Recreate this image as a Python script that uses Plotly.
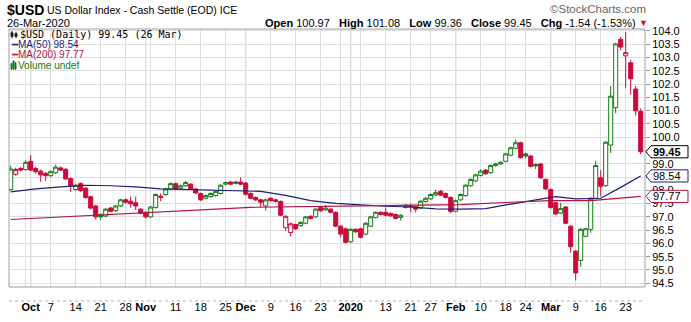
import plotly.graph_objects as go
import numpy as np
from datetime import date

# ---------------- data ----------------
dates = [
    "2019-09-25", "2019-09-26", "2019-09-27", "2019-09-30",
    "2019-10-01", "2019-10-02", "2019-10-03", "2019-10-04", "2019-10-07", "2019-10-08", "2019-10-09",
    "2019-10-10", "2019-10-11", "2019-10-14", "2019-10-15", "2019-10-16", "2019-10-17", "2019-10-18",
    "2019-10-21", "2019-10-22", "2019-10-23", "2019-10-24", "2019-10-25", "2019-10-28", "2019-10-29",
    "2019-10-30", "2019-10-31",
    "2019-11-01", "2019-11-04", "2019-11-05", "2019-11-06", "2019-11-07", "2019-11-08", "2019-11-11",
    "2019-11-12", "2019-11-13", "2019-11-14", "2019-11-15", "2019-11-18", "2019-11-19", "2019-11-20",
    "2019-11-21", "2019-11-22", "2019-11-25", "2019-11-26", "2019-11-27", "2019-11-29",
    "2019-12-02", "2019-12-03", "2019-12-04", "2019-12-05", "2019-12-06", "2019-12-09", "2019-12-10",
    "2019-12-11", "2019-12-12", "2019-12-13", "2019-12-16", "2019-12-17", "2019-12-18", "2019-12-19",
    "2019-12-20", "2019-12-23", "2019-12-24", "2019-12-26", "2019-12-27", "2019-12-30", "2019-12-31",
    "2020-01-02", "2020-01-03", "2020-01-06", "2020-01-07", "2020-01-08", "2020-01-09", "2020-01-10",
    "2020-01-13", "2020-01-14", "2020-01-15", "2020-01-16", "2020-01-17", "2020-01-21", "2020-01-22",
    "2020-01-23", "2020-01-24", "2020-01-27", "2020-01-28", "2020-01-29", "2020-01-30", "2020-01-31",
    "2020-02-03", "2020-02-04", "2020-02-05", "2020-02-06", "2020-02-07", "2020-02-10", "2020-02-11",
    "2020-02-12", "2020-02-13", "2020-02-14", "2020-02-18", "2020-02-19", "2020-02-20", "2020-02-21",
    "2020-02-24", "2020-02-25", "2020-02-26", "2020-02-27", "2020-02-28",
    "2020-03-02", "2020-03-03", "2020-03-04", "2020-03-05", "2020-03-06", "2020-03-09", "2020-03-10",
    "2020-03-11", "2020-03-12", "2020-03-13", "2020-03-16", "2020-03-17", "2020-03-18", "2020-03-19",
    "2020-03-20", "2020-03-23", "2020-03-24", "2020-03-25", "2020-03-26",
]

opens = [
    98.03, 98.60, 98.82, 98.78,
    99.09, 98.82, 98.72, 98.64, 98.55, 98.66, 98.84, 98.79, 98.44, 98.03, 98.25, 98.08, 97.76, 97.41,
    97.09, 97.03, 97.33, 97.23, 97.41, 97.64, 97.59, 97.53, 97.29,
    97.17, 97.00, 97.35, 97.78, 97.84, 98.05, 98.25, 98.08, 98.17, 98.23, 98.05, 97.88, 97.70, 97.76,
    97.80, 97.88, 98.23, 98.31, 98.26, 98.31,
    98.27, 97.88, 97.73, 97.64, 97.41, 97.70, 97.64, 97.58, 96.59, 96.41, 96.71, 96.67, 96.76, 97.02,
    97.00, 97.35, 97.26, 97.29, 97.17, 96.65, 96.55,
    96.06, 96.53, 96.55, 96.35, 96.65, 96.98, 97.17, 97.17, 97.13, 97.09, 96.98, 97.35, 97.42, 97.38,
    97.33, 97.58, 97.68, 97.82, 97.96, 97.88, 97.73,
    97.21, 97.64, 97.80, 98.17, 98.35, 98.56, 98.76, 98.66, 98.93, 98.99, 99.09, 99.32, 99.58, 99.79,
    99.37, 99.29, 98.97, 98.99, 98.41,
    98.03, 97.53, 97.14, 97.37, 96.65, 95.71, 95.36, 96.27, 96.53, 97.70, 98.47, 98.17, 99.70, 101.11,
    103.68, 103.06, 102.80, 101.81, 100.97,
]

highs = [
    98.93, 98.85, 98.88, 99.13,
    99.32, 98.88, 98.78, 98.68, 98.75, 98.97, 98.90, 98.84, 98.48, 98.24, 98.30, 98.12, 97.80, 97.45,
    97.13, 97.33, 97.38, 97.45, 97.68, 97.70, 97.77, 97.76, 97.33,
    97.21, 97.41, 97.88, 97.88, 98.10, 98.30, 98.29, 98.22, 98.35, 98.27, 98.09, 97.92, 97.84, 97.92,
    98.00, 98.23, 98.33, 98.35, 98.35, 98.49,
    98.31, 97.92, 97.77, 97.68, 97.68, 97.74, 97.68, 97.62, 97.06, 96.78, 96.75, 96.83, 97.04, 97.06,
    97.33, 97.39, 97.45, 97.33, 97.21, 96.69, 96.59,
    96.57, 96.57, 96.59, 96.80, 97.04, 97.21, 97.21, 97.35, 97.17, 97.13, 97.10, 97.48, 97.50, 97.42,
    97.63, 97.74, 97.88, 98.02, 98.02, 97.92, 97.77,
    97.65, 97.88, 98.23, 98.45, 98.62, 98.79, 98.80, 98.97, 99.03, 99.09, 99.41, 99.64, 99.91, 99.83,
    99.41, 99.33, 99.01, 99.03, 98.45,
    98.07, 97.57, 97.53, 97.41, 96.69, 95.75, 96.57, 96.59, 97.74, 99.11, 98.76, 99.85, 101.93, 103.55,
    103.77, 103.95, 102.91, 101.93, 101.08,
]

lows = [
    97.98, 98.55, 98.70, 98.74,
    98.72, 98.62, 98.31, 98.35, 98.50, 98.62, 98.72, 98.38, 97.94, 97.99, 97.93, 97.68, 97.28, 96.90,
    96.88, 96.98, 97.17, 97.18, 97.37, 97.50, 97.35, 97.26, 97.10,
    96.94, 96.96, 97.31, 97.59, 97.80, 98.01, 98.00, 98.04, 98.13, 98.01, 97.86, 97.60, 97.66, 97.72,
    97.76, 97.84, 98.19, 98.19, 98.22, 98.19,
    97.80, 97.66, 97.60, 97.35, 97.23, 97.57, 97.54, 97.02, 96.47, 96.27, 96.50, 96.63, 96.72, 96.90,
    96.96, 97.19, 97.22, 97.13, 96.61, 96.23, 96.00,
    96.02, 96.40, 96.19, 96.31, 96.61, 96.94, 97.05, 97.02, 97.00, 96.90, 96.86, 97.31, 97.17, 97.17,
    97.29, 97.54, 97.64, 97.78, 97.78, 97.69, 97.14,
    97.17, 97.60, 97.76, 98.13, 98.31, 98.52, 98.58, 98.62, 98.89, 98.95, 99.05, 99.28, 99.54, 99.19,
    99.20, 98.86, 98.80, 98.43, 98.01,
    97.31, 97.07, 97.10, 96.72, 95.65, 94.61, 95.12, 96.23, 96.40, 97.66, 97.77, 98.13, 99.40, 100.90,
    103.27, 101.86, 101.60, 100.81, 99.36,
]

closes = [
    98.80, 98.78, 98.76, 99.05,
    98.76, 98.70, 98.58, 98.55, 98.70, 98.87, 98.76, 98.43, 98.17, 98.19, 97.99, 97.73, 97.33, 97.00,
    97.00, 97.29, 97.21, 97.41, 97.64, 97.55, 97.49, 97.41, 97.14,
    97.00, 97.37, 97.84, 97.73, 98.05, 98.25, 98.05, 98.17, 98.29, 98.05, 97.90, 97.64, 97.80, 97.88,
    97.96, 98.19, 98.29, 98.23, 98.31, 98.23,
    97.85, 97.70, 97.64, 97.55, 97.64, 97.61, 97.58, 97.06, 97.02, 96.74, 96.55, 96.79, 97.00, 96.94,
    97.29, 97.23, 97.33, 97.17, 96.65, 96.35, 96.04,
    96.53, 96.44, 96.23, 96.76, 97.00, 97.17, 97.09, 97.06, 97.04, 96.94, 97.06, 97.44, 97.37, 97.29,
    97.59, 97.70, 97.84, 97.91, 97.82, 97.73, 97.20,
    97.61, 97.84, 98.19, 98.41, 98.58, 98.72, 98.62, 98.93, 98.99, 99.05, 99.37, 99.60, 99.79, 99.23,
    99.29, 98.90, 98.92, 98.47, 98.05,
    97.35, 97.11, 97.31, 96.76, 95.88, 94.89, 96.53, 96.55, 97.70, 98.93, 98.15, 99.81, 101.54, 103.51,
    103.39, 103.18, 102.20, 100.99, 99.45,
]

ma50_dates = ["2019-09-25", "2019-10-02", "2019-10-09", "2019-10-16", "2019-10-23", "2019-10-30",
              "2019-11-06", "2019-11-13", "2019-11-20", "2019-11-29", "2019-12-05", "2019-12-12",
              "2019-12-19", "2019-12-27", "2020-01-06", "2020-01-13", "2020-01-21", "2020-01-28",
              "2020-02-04", "2020-02-11", "2020-02-19", "2020-02-26", "2020-03-03", "2020-03-09",
              "2020-03-16", "2020-03-20", "2020-03-26"]
ma50_values = [97.94, 98.05, 98.13, 98.19, 98.17, 98.13, 98.05, 98.03, 97.99, 97.99, 97.96, 97.81,
               97.61, 97.51, 97.45, 97.40, 97.37, 97.30, 97.29, 97.31, 97.48, 97.65, 97.76, 97.68,
               97.70, 98.11, 98.54]

ma200_dates = ["2019-09-25", "2019-10-29", "2019-12-03", "2020-01-06", "2020-02-04", "2020-02-19",
               "2020-03-02", "2020-03-12", "2020-03-20", "2020-03-26"]
ma200_values = [96.90, 97.14, 97.36, 97.41, 97.46, 97.55, 97.61, 97.61, 97.70, 97.77]

y_ticks = [94.5, 95.0, 95.5, 96.0, 96.5, 97.0, 97.5, 98.0, 98.5, 99.0,
           99.5, 100.0, 100.5, 101.0, 101.5, 102.0, 102.5, 103.0, 103.5, 104.0]
hidden_ticks = [98.5, 99.5]   # covered by the value boxes in the reference

# ---------------- geometry helpers ----------------
W, H = 691, 322
L, R, T, B = 9, 645, 29, 305          # plot area in pixels
Y0, Y1 = 94.36, 104.07
def px(x):
    return (x - L) / (R - L)
def py(y):
    return (B - y) / (B - T)
def vy(v):
    return B - (v - Y0) / (Y1 - Y0) * (B - T)

GREEN = "#137a13"
RED = "#cc0a3c"
NAVY = "#1e1e78"
CRIM = "#b3123f"
FONT = "Liberation Sans, Arial, sans-serif"

pos = list(range(len(dates)))
date_idx = {d: i for i, d in enumerate(dates)}
dd = [date.fromisoformat(d) for d in dates]

fig = go.Figure()

# candles: colour by close vs previous close, hollow when close > open
groups = {}
for i in pos:
    prev = closes[i - 1] if i > 0 else opens[i]
    col = GREEN if closes[i] >= prev else RED
    hollow = closes[i] > opens[i]
    groups.setdefault((col, hollow), []).append(i)

for (col, hollow), idxs in groups.items():
    fill = "white" if hollow else col
    style = dict(line=dict(color=col, width=1), fillcolor=fill)
    fig.add_trace(go.Candlestick(
        x=idxs,
        open=[opens[i] for i in idxs], high=[highs[i] for i in idxs],
        low=[lows[i] for i in idxs], close=[closes[i] for i in idxs],
        increasing=style, decreasing=style, whiskerwidth=0,
        showlegend=False, hoverinfo="skip"))

fig.add_trace(go.Scatter(x=[date_idx[d] for d in ma50_dates], y=ma50_values, mode="lines",
                         line=dict(color=NAVY, width=1.2), showlegend=False, hoverinfo="skip"))
fig.add_trace(go.Scatter(x=[date_idx[d] for d in ma200_dates], y=ma200_values, mode="lines",
                         line=dict(color=CRIM, width=1.2), showlegend=False, hoverinfo="skip"))

# ---------------- x ticks: week starts and month starts ----------------
month_starts = [i for i in pos if i > 0 and dd[i].month != dd[i - 1].month]
week_starts = [i for i in pos if i > 0 and dd[i].weekday() < dd[i - 1].weekday()]
grid = sorted(set(month_starts) | set(week_starts))
tickvals, ticktext = [], []
for g in grid:
    tickvals.append(g)
    if g in month_starts:
        name = str(dd[g].year) if dd[g].month == 1 else dd[g].strftime("%b")
        ticktext.append("<b>%s</b>" % name)
    elif any(abs(g - m) <= 2 for m in month_starts):
        ticktext.append("")
    else:
        ticktext.append(str(dd[g].day))

shapes = []
for m in month_starts:
    shapes.append(dict(type="line", xref="x", yref="paper", x0=m, x1=m, y0=0, y1=1,
                       line=dict(color="#a8a8a8", width=1), layer="below"))
# frame
shapes.append(dict(type="rect", xref="paper", yref="paper", x0=0, x1=1, y0=0, y1=1,
                   line=dict(color="#a0a0a0", width=1)))
shapes.append(dict(type="line", xref="paper", yref="paper", x0=0, x1=1, y0=py(320), y1=py(320),
                   line=dict(color="#b0b0b0", width=1, dash="dot")))

# legend icons
def pline(x0, y0, x1, y1, color, w=1):
    shapes.append(dict(type="line", xref="paper", yref="paper", x0=px(x0), x1=px(x1),
                       y0=py(y0), y1=py(y1), line=dict(color=color, width=w)))
def prect(x0, y0, x1, y1, color):
    shapes.append(dict(type="rect", xref="paper", yref="paper", x0=px(x0), x1=px(x1),
                       y0=py(y0), y1=py(y1), line=dict(color=color, width=1), fillcolor=color))
pline(12, 31, 12, 39, "#222")
prect(11, 33, 13, 37, "#222")
pline(16, 32, 16, 39, "#222")
prect(15, 34, 17, 37, "#222")
prect(11, 66, 12, 72, GREEN)
prect(13, 63, 14, 72, GREEN)
prect(15, 65, 16, 72, GREEN)

ann = []
def text(x, y, s, size=11, color="#000", anchor="left", family=FONT, **kw):
    ann.append(dict(xref="paper", yref="paper", x=px(x), y=py(y), text=s, showarrow=False,
                    xanchor=anchor, yanchor="middle", font=dict(size=size, color=color, family=family),
                    borderpad=0, **kw))

# header
text(6, 9, "<b>$USD</b>", size=14)
text(46, 9, "US Dollar Index - Cash Settle (EOD) ICE", size=10.5)
text(6, 23, "26-Mar-2020", size=11)
nb = "\u00a0"
hdr = ("<b>Open</b> %.2f%s<b>High</b> %.2f%s<b>Low</b> %.2f%s<b>Close</b> %.2f%s<b>Chg</b> -1.54 (-1.53%%)"
       ) % (opens[-1], nb * 3, highs[-1], nb * 3, lows[-1], nb * 3, closes[-1], nb * 3)
text(637, 23, hdr, size=11, anchor="right")
text(638, 23, "▼", size=9, color=RED, anchor="left")
text(647, 8, "©StockCharts.com", size=11.5, color="#666", anchor="right")

# in-plot legend
text(19, 35, "$USD (Daily) %.2f (26 Mar)" % closes[-1], size=10, family="DejaVu Sans Mono")
text(10, 45.5, "━MA(50) %.2f" % ma50_values[-1], size=10, color=NAVY)
text(10, 56.5, "━MA(200) %.2f" % ma200_values[-1], size=10, color=CRIM)
text(17, 68.5, "Volume undef", size=10, color=GREEN)

# value boxes (pointed on the left) on the right axis
for val, col, bold in [(closes[-1], "#000", True), (ma50_values[-1], NAVY, False),
                       (ma200_values[-1], CRIM, False)]:
    yc = vy(val)
    path = "M %f,%f L %f,%f L %f,%f L %f,%f L %f,%f Z" % (
        px(646), py(yc), px(651), py(yc - 6.5), px(688), py(yc - 6.5), px(688), py(yc + 6.5),
        px(651), py(yc + 6.5))
    shapes.append(dict(type="path", xref="paper", yref="paper", path=path, fillcolor="white",
                       line=dict(color=col, width=1), layer="above"))
    s = ("<b>%.2f</b>" if bold else "%.2f") % val
    text(652, yc, s, size=11, color="#000")

fig.update_layout(
    width=W, height=H, margin=dict(l=L, r=W - R, t=T, b=H - B),
    paper_bgcolor="white", plot_bgcolor="white",
    showlegend=False, boxgap=0.1, boxgroupgap=0.1,
    shapes=shapes, annotations=ann,
    font=dict(family=FONT, size=11, color="#000"),
    xaxis=dict(range=[(L - 10.7) / 5.0, (R - 10.7) / 5.0], tickmode="array", tickvals=tickvals,
               ticktext=ticktext, showgrid=True, gridcolor="#dedede", gridwidth=1, zeroline=False,
               showline=False, ticks="outside", ticklen=10, tickcolor="white",
               tickfont=dict(size=11, family=FONT, color="#000"),
               rangeslider=dict(visible=False), fixedrange=True),
    yaxis=dict(side="right", range=[Y0, Y1], tickmode="array", tickvals=y_ticks,
               ticktext=["" if v in hidden_ticks else "%.1f" % v for v in y_ticks],
               showgrid=True, gridcolor="#dedede",
               zeroline=False, showline=False, ticks="outside", ticklen=4, tickcolor="#999",
               tickfont=dict(size=11, family=FONT, color="#000"), fixedrange=True),
)

fig.write_html("out.html")
